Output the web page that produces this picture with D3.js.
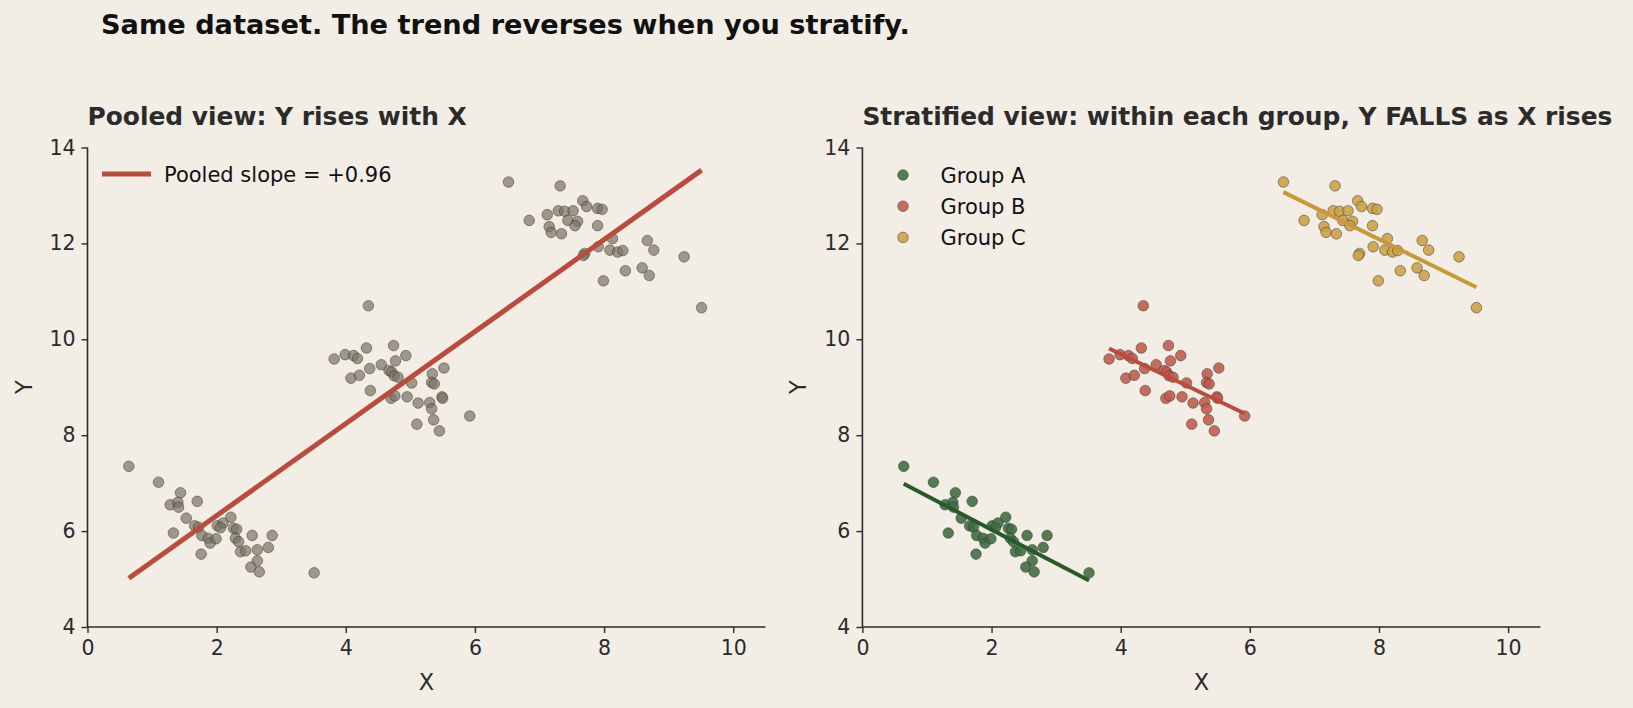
<!DOCTYPE html>
<html>
<head>
<meta charset="utf-8">
<script src="https://cdn.jsdelivr.net/npm/d3@7"></script>
<style>
  body { margin: 0; background: #f2eee6; }
  svg { display: block; }
  text { font-family: "DejaVu Sans", sans-serif; }
</style>
</head>
<body>
<svg width="1633" height="708"></svg>
<script>
// data, [x, y]
let groupA = [
  [0.64, 7.35], [1.10, 7.02], [1.44, 6.80], [1.70, 6.62], [1.28, 6.55], [1.40, 6.60],
  [1.41, 6.50], [1.53, 6.27], [1.33, 5.96], [1.66, 6.11], [1.72, 6.08], [1.77, 5.91],
  [1.76, 5.52], [1.87, 5.85], [1.90, 5.75], [1.99, 5.84], [2.01, 6.11], [2.10, 6.17],
  [2.06, 6.07], [2.22, 6.29], [2.26, 6.06], [2.31, 6.04], [2.29, 5.85], [2.34, 5.78],
  [2.37, 5.57], [2.45, 5.59], [2.55, 5.91], [2.63, 5.61], [2.63, 5.38], [2.53, 5.25],
  [2.66, 5.15], [2.80, 5.66], [2.86, 5.91], [3.51, 5.13]
];
let groupB = [
  [4.35, 10.70], [4.32, 9.82], [4.74, 9.87], [4.93, 9.66], [3.82, 9.59], [3.99, 9.68],
  [4.12, 9.66], [4.18, 9.60], [4.08, 9.19], [4.21, 9.25], [4.37, 9.39], [4.38, 8.93],
  [4.55, 9.47], [4.77, 9.55], [4.67, 9.35], [4.71, 9.32], [4.75, 9.24], [4.81, 9.21],
  [4.70, 8.77], [4.76, 8.82], [4.95, 8.80], [5.02, 9.09], [5.12, 8.67], [5.10, 8.23],
  [5.30, 8.68], [5.34, 9.28], [5.33, 9.10], [5.37, 9.07], [5.33, 8.55], [5.36, 8.32],
  [5.45, 8.09], [5.49, 8.80], [5.50, 8.77], [5.52, 9.40], [5.92, 8.40]
];
let groupC = [
  [6.52, 13.28], [7.32, 13.20], [6.84, 12.48], [7.12, 12.60], [7.15, 12.35], [7.18, 12.23],
  [7.34, 12.20], [7.29, 12.68], [7.39, 12.67], [7.52, 12.68], [7.44, 12.48], [7.59, 12.46],
  [7.55, 12.37], [7.67, 12.89], [7.73, 12.77], [7.90, 12.73], [7.97, 12.71], [7.90, 12.37],
  [8.13, 12.10], [7.91, 11.93], [8.09, 11.86], [8.21, 11.82], [8.29, 11.85], [7.70, 11.79],
  [7.68, 11.75], [7.99, 11.22], [8.33, 11.43], [8.59, 11.49], [8.70, 11.33], [8.67, 12.06],
  [8.77, 11.86], [9.24, 11.72], [9.51, 10.66]
];
let groupNames = ["Group A", "Group B", "Group C"];
let xTicks = [0, 2, 4, 6, 8, 10];
let yTicks = [4, 6, 8, 10, 12, 14];
let pooledLabel = "Pooled slope = +0.96";

let groupFill = ["#3f6b40", "#bf5a4c", "#cc9f45"];
let groupLine = ["#2a5a28", "#b84c3e", "#c8983a"];
let ink = "#2b2b2b";

let svg = d3.select("svg");

svg.append("text")
    .attr("x", 101).attr("y", 34)
    .attr("font-size", 27.2).attr("font-weight", "bold").attr("fill", "#111")
    .text("Same dataset. The trend reverses when you stratify.");

let y = d3.scaleLinear().domain([4, 14]).range([627, 147.5]);

function fit(pts) {
  let mx = d3.mean(pts, d => d[0]), my = d3.mean(pts, d => d[1]);
  let sxy = d3.sum(pts, d => (d[0] - mx) * (d[1] - my));
  let sxx = d3.sum(pts, d => (d[0] - mx) * (d[0] - mx));
  let b = sxy / sxx, a = my - b * mx;
  let ext = d3.extent(pts, d => d[0]);
  return ext.map(v => [v, a + b * v]);
}

function panel(left, title) {
  let x = d3.scaleLinear().domain([0, 10.5]).range([left, left + 678]);
  let g = svg.append("g");

  g.append("text")
      .attr("x", left).attr("y", 125)
      .attr("font-size", 24.9).attr("font-weight", "bold").attr("fill", ink)
      .text(title);

  let xa = g.append("g").attr("transform", "translate(0,627)")
      .call(d3.axisBottom(x).tickValues(xTicks).tickSize(6).tickPadding(7));
  let ya = g.append("g").attr("transform", "translate(" + left + ",0)")
      .call(d3.axisLeft(y).tickValues(yTicks).tickSize(6).tickPadding(6));
  [xa, ya].forEach(a => {
    a.select(".domain").attr("stroke", ink).attr("stroke-width", 1.6);
    a.selectAll(".tick line").attr("stroke", ink).attr("stroke-width", 1.4);
    a.selectAll(".tick text").attr("fill", ink).attr("font-size", 20.5)
      .attr("font-family", "DejaVu Sans, sans-serif");
  });
  ya.select(".domain").attr("d", "M0,627V147.5");
  xa.select(".domain").attr("d", "M" + left + ",0H" + (left + 678));

  g.append("text")
      .attr("x", left + 339).attr("y", 690)
      .attr("text-anchor", "middle").attr("font-size", 22.5).attr("fill", ink)
      .text("X");
  g.append("text")
      .attr("transform", "translate(" + (left - 56) + ",387) rotate(-90)")
      .attr("text-anchor", "middle").attr("font-size", 22.5).attr("fill", ink)
      .text("Y");
  return {g: g, x: x};
}

let line = (x) => d3.line().x(d => x(d[0])).y(d => y(d[1]));

// pooled
let p1 = panel(87.5, "Pooled view: Y rises with X");
let pooled = groupA.concat(groupB, groupC);
p1.g.append("g").selectAll("circle").data(pooled).join("circle")
    .attr("cx", d => p1.x(d[0])).attr("cy", d => y(d[1])).attr("r", 5.3)
    .attr("fill", "#7b7362").attr("fill-opacity", 0.7)
    .attr("stroke", "#3a3630").attr("stroke-opacity", 0.7).attr("stroke-width", 0.7);
p1.g.append("path").datum(fit(pooled))
    .attr("d", line(p1.x)).attr("fill", "none")
    .attr("stroke", "#b84c3e").attr("stroke-width", 5);

p1.g.append("line").attr("x1", 102).attr("x2", 151).attr("y1", 174).attr("y2", 174)
    .attr("stroke", "#b84c3e").attr("stroke-width", 5);
p1.g.append("text").attr("x", 164).attr("y", 182)
    .attr("font-size", 21).attr("fill", "#111").text(pooledLabel);

// stratified
let p2 = panel(862.4, "Stratified view: within each group, Y FALLS as X rises");
[groupA, groupB, groupC].forEach((grp, i) => {
  p2.g.append("g").selectAll("circle").data(grp).join("circle")
      .attr("cx", d => p2.x(d[0])).attr("cy", d => y(d[1])).attr("r", 5.3)
      .attr("fill", groupFill[i]).attr("fill-opacity", 0.88)
      .attr("stroke", "#333").attr("stroke-opacity", 0.7).attr("stroke-width", 0.7);
});
[groupA, groupB, groupC].forEach((grp, i) => {
  p2.g.append("path").datum(fit(grp))
      .attr("d", line(p2.x)).attr("fill", "none")
      .attr("stroke", groupLine[i]).attr("stroke-width", 4);
});

let leg = p2.g.append("g").selectAll("g").data(groupNames).join("g")
    .attr("transform", (d, i) => "translate(903," + (175 + i * 31.2) + ")");
leg.append("circle").attr("r", 5.3)
    .attr("fill", (d, i) => groupFill[i]).attr("fill-opacity", 0.88)
    .attr("stroke", "#333").attr("stroke-opacity", 0.7).attr("stroke-width", 0.7);
leg.append("text").attr("x", 37.5).attr("y", 7.5)
    .attr("font-size", 21).attr("fill", "#111").text(d => d);
</script>
</body>
</html>
